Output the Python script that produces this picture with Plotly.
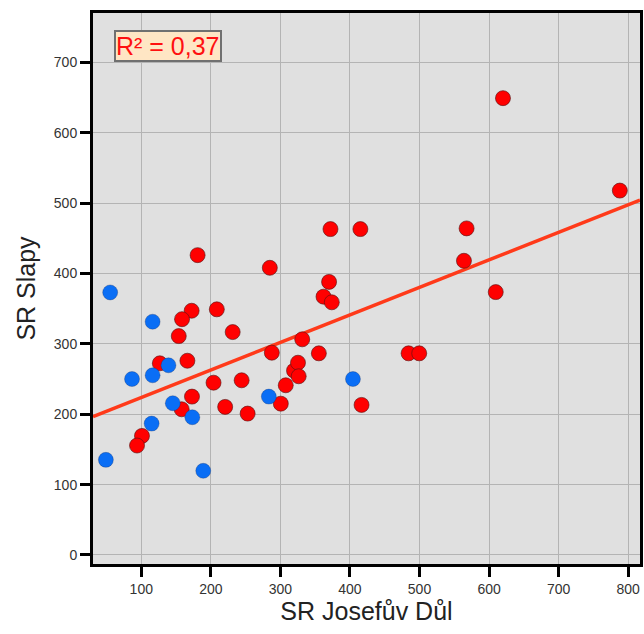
import plotly.graph_objects as go

# Red group (SR Josefův Důl, SR Slapy)
red_x = [181, 284.8, 172.4, 208.6, 158.6, 153.9, 231.4, 126.7, 166.3, 203.9, 244.3, 172.9, 158.1,
         220.6, 252.9, 101, 93.9, 300.6, 287.7, 307.7, 319.6, 325.3, 326.3, 331.4, 355.3,
         362, 370, 373.9, 372, 415, 416.7, 484.3, 499.6, 563.9, 567.7, 609.6, 620, 788]
red_y = [426, 408, 347, 349, 335, 311, 316.7, 272.3, 276, 244.8, 248.2, 225, 207,
         210.4, 200.9, 169.2, 155.5, 215, 287.4, 241.1, 261.9, 273.2, 253.9, 306.4, 286.5,
         367, 388, 359, 463, 463, 213.2, 286.5, 286.5, 418, 464, 373.5, 649, 517.7]

# Blue group
blue_x = [55.3, 116.3, 139.1, 86.7, 116.3, 145.3, 173.4, 114.9, 49.1, 189.1, 283.4, 404.3]
blue_y = [373, 331.4, 269.5, 250, 255.3, 215.6, 195.7, 186.7, 135.2, 119.6, 225, 250]

# Trend line
trend_slope = 0.391
trend_intercept = 184.7
trend_x = [30.6, 817]
trend_y = [trend_intercept + trend_slope * v for v in trend_x]

x_ticks = [100, 200, 300, 400, 500, 600, 700, 800]
y_ticks = [0, 100, 200, 300, 400, 500, 600, 700]
r2_label = "R² = 0,37"

fig = go.Figure()
fig.add_trace(go.Scatter(x=trend_x, y=trend_y, mode="lines",
                         line=dict(color="#FF3A1A", width=3.5), hoverinfo="skip"))
fig.add_trace(go.Scatter(x=red_x, y=red_y, mode="markers",
                         marker=dict(color="#FF0000", size=15,
                                     line=dict(color="rgba(90,20,20,0.8)", width=0.8))))
fig.add_trace(go.Scatter(x=blue_x, y=blue_y, mode="markers",
                         marker=dict(color="#0A6EF5", size=15,
                                     line=dict(color="rgba(20,40,90,0.5)", width=0.6))))

axis_common = dict(
    showgrid=True, gridcolor="#B4B4B4", gridwidth=1,
    showline=True, linecolor="black", linewidth=3, mirror=True,
    ticks="outside", ticklen=10, tickwidth=2.5, tickcolor="black",
    tickfont=dict(family="Liberation Sans, Arial", size=14, color="#333333"),
    zeroline=False,
)

title_font = dict(family="Liberation Sans, Arial", size=25, color="#222222")
fig.update_xaxes(range=[30.6, 817], tickvals=x_ticks,
                 title=dict(text="SR Josefův Důl", font=title_font, standoff=2),
                 **axis_common)
fig.update_yaxes(range=[-12.8, 770], tickvals=y_ticks,
                 title=dict(text="SR Slapy", font=title_font, standoff=12),
                 **axis_common)

fig.add_annotation(text=r2_label, xref="paper", yref="paper", x=0.039, y=0.97,
                   xanchor="left", yanchor="top", showarrow=False,
                   font=dict(family="Liberation Sans, Arial", size=25, color="#FF1010"),
                   bgcolor="#FFE6C4", bordercolor="#707070", borderwidth=2, borderpad=0)

fig.update_layout(
    width=644, height=634,
    margin=dict(l=93, r=1, t=13, b=70),
    plot_bgcolor="#E0E0E0", paper_bgcolor="white",
    showlegend=False,
)

fig.write_html("out.html")
